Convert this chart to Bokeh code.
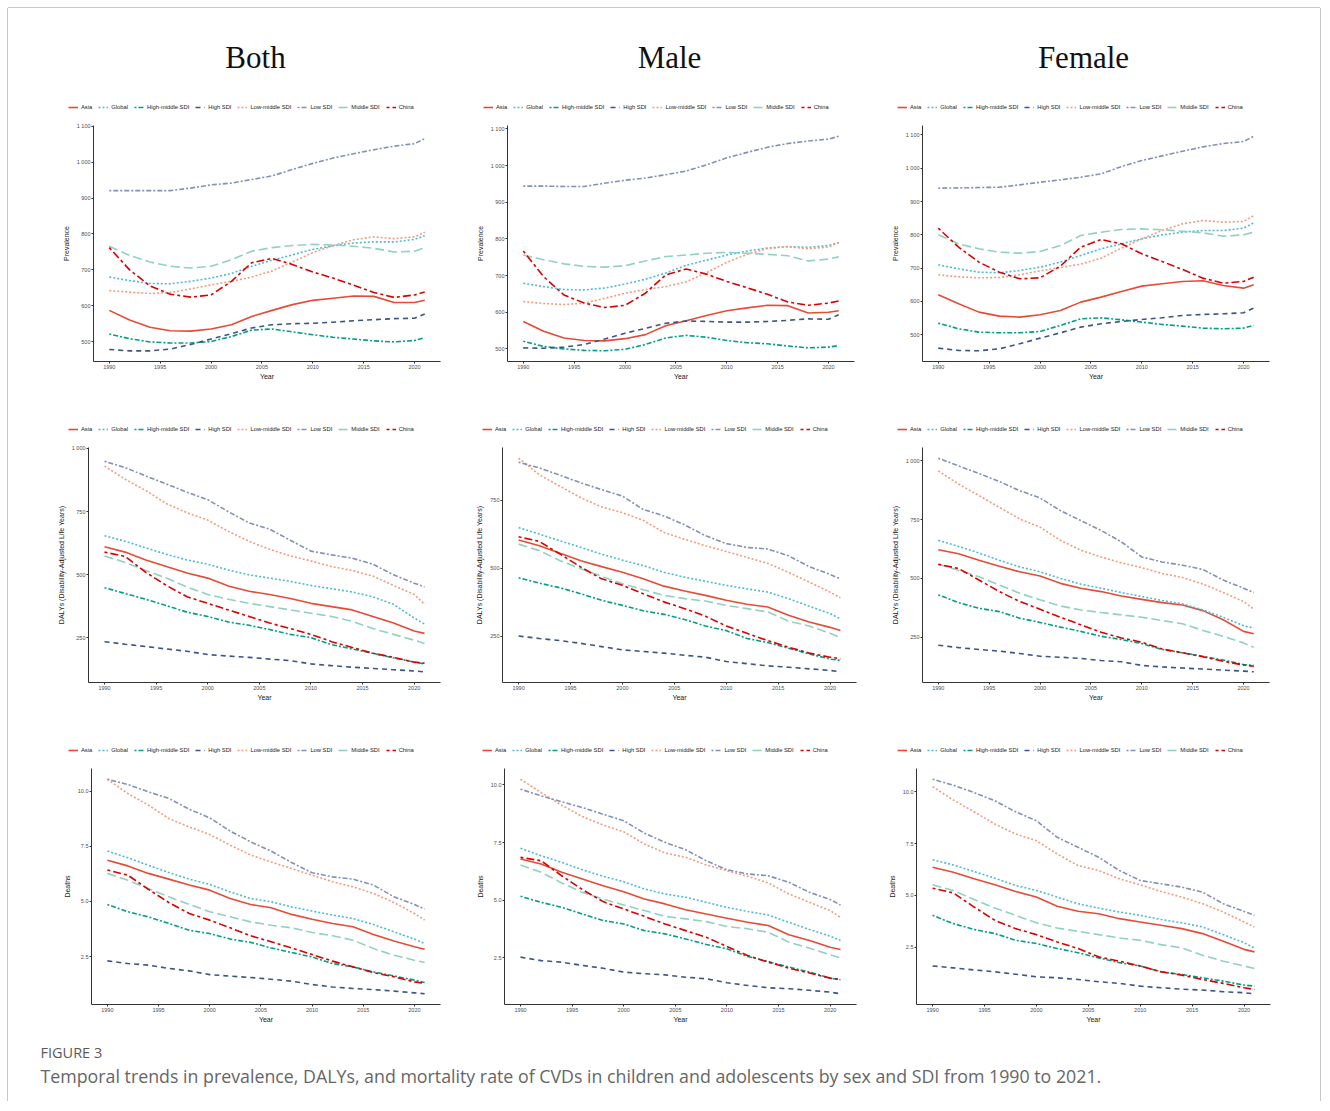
from bokeh.plotting import figure
from bokeh.models import Range1d, FixedTicker, CustomJSTickFormatter, Legend, LegendItem
from bokeh.layouts import column, row
from bokeh.embed import file_html
from bokeh.resources import INLINE
from bokeh.core.properties import value

# ---------------- data ----------------
years = [1990, 1992, 1994, 1996, 1998, 2000, 2002, 2004, 2006, 2008, 2010, 2012, 2014, 2016, 2018, 2020, 2021]
series_names = ["Asia", "Global", "High-middle SDI", "High SDI", "Low-middle SDI", "Low SDI", "Middle SDI", "China"]
x_ticks = [1990, 1995, 2000, 2005, 2010, 2015, 2020]
prev_ticks = [500, 600, 700, 800, 900, 1000, 1100]
daly_ticks = [250, 500, 750, 1000]
death_ticks = [2.5, 5.0, 7.5, 10.0]
col_titles = ["Both", "Male", "Female"]
row_ylabels = ["Prevalence", "DALYs (Disability-Adjusted Life Years)", "Deaths"]
caption_head = "FIGURE 3"
caption_text = ("Temporal trends in prevalence, DALYs, and mortality rate of CVDs in children and "
                "adolescents by sex and SDI from 1990 to 2021.")

prev_both = {
    "Asia": [587, 560, 540, 530, 529, 535, 547, 570, 587, 603, 615, 621, 627, 626, 609, 609, 615],
    "Global": [680, 670, 662, 661, 668, 677, 690, 710, 727, 742, 757, 767, 775, 778, 778, 785, 795],
    "High-middle SDI": [521, 508, 499, 496, 496, 500, 514, 532, 535, 527, 519, 512, 507, 502, 499, 503, 511],
    "High SDI": [478, 474, 474, 479, 492, 507, 522, 538, 547, 550, 551, 554, 558, 561, 564, 565, 577],
    "Low-middle SDI": [642, 638, 634, 637, 647, 658, 668, 680, 697, 722, 748, 768, 784, 792, 787, 792, 805],
    "Low SDI": [921, 921, 921, 921, 928, 937, 942, 952, 962, 980, 997, 1012, 1024, 1035, 1045, 1052, 1066],
    "Middle SDI": [766, 740, 722, 710, 705, 710, 728, 752, 762, 768, 771, 769, 766, 760, 750, 752, 762],
    "China": [762, 700, 655, 632, 624, 630, 668, 720, 732, 715, 694, 677, 657, 637, 623, 630, 638],
}
prev_male = {
    "Asia": [575, 548, 530, 523, 522, 528, 539, 563, 577, 591, 604, 612, 619, 618, 598, 600, 604],
    "Global": [679, 670, 662, 661, 666, 677, 690, 707, 728, 742, 756, 767, 775, 779, 777, 782, 790],
    "High-middle SDI": [521, 507, 500, 496, 495, 499, 512, 530, 537, 532, 523, 517, 514, 508, 503, 505, 509],
    "High SDI": [503, 502, 505, 512, 527, 543, 556, 570, 576, 575, 573, 573, 575, 578, 582, 581, 593],
    "Low-middle SDI": [629, 624, 621, 625, 638, 652, 662, 670, 683, 708, 736, 758, 774, 779, 773, 778, 790],
    "Low SDI": [944, 944, 943, 943, 952, 960, 966, 975, 985, 1002, 1021, 1036, 1050, 1060, 1067, 1072, 1080],
    "Middle SDI": [756, 743, 732, 725, 723, 727, 740, 752, 756, 761, 763, 761, 758, 754, 740, 745, 751],
    "China": [767, 697, 647, 625, 613, 619, 652, 702, 718, 704, 684, 667, 649, 628, 619, 625, 631],
}
prev_female = {
    "Asia": [620, 593, 568, 556, 553, 560, 573, 598, 613, 630, 646, 653, 660, 662, 648, 640, 650],
    "Global": [710, 698, 688, 686, 693, 703, 718, 738, 758, 773, 788, 800, 808, 813, 813, 820, 836],
    "High-middle SDI": [535, 518, 508, 506, 506, 510, 528, 548, 551, 545, 538, 531, 526, 520, 518, 520, 528],
    "High SDI": [460, 453, 452, 458, 473, 490, 506, 523, 533, 540, 546, 551, 558, 561, 563, 566, 580],
    "Low-middle SDI": [680, 674, 671, 672, 680, 692, 702, 712, 730, 760, 788, 813, 833, 843, 838, 840, 858],
    "Low SDI": [940, 941, 942, 943, 950, 958, 965, 973, 983, 1005, 1023, 1037, 1051, 1064, 1074, 1080, 1096],
    "Middle SDI": [800, 773, 758, 748, 745, 750, 768, 798, 808, 816, 818, 815, 811, 806, 796, 800, 808],
    "China": [820, 763, 718, 688, 668, 671, 706, 763, 786, 773, 743, 720, 696, 670, 655, 660, 673],
}
daly_both = {
    "Asia": [610, 589, 558, 532, 506, 486, 455, 434, 421, 405, 386, 373, 360, 334, 308, 276, 267],
    "Global": [654, 632, 606, 580, 558, 541, 518, 499, 486, 473, 457, 444, 431, 412, 382, 328, 304],
    "High-middle SDI": [448, 425, 402, 377, 351, 334, 312, 299, 282, 263, 250, 222, 205, 188, 170, 153, 146],
    "High SDI": [234, 224, 215, 205, 196, 183, 177, 172, 165, 159, 146, 139, 133, 128, 123, 118, 114],
    "Low-middle SDI": [930, 878, 833, 781, 745, 716, 671, 632, 600, 574, 554, 532, 516, 494, 457, 421, 383],
    "Low SDI": [949, 924, 891, 859, 826, 797, 749, 705, 680, 636, 593, 578, 565, 541, 499, 466, 451],
    "Middle SDI": [574, 548, 516, 486, 451, 421, 402, 386, 373, 360, 347, 334, 315, 286, 263, 240, 227],
    "China": [589, 572, 509, 457, 412, 386, 360, 334, 308, 286, 263, 234, 211, 188, 172, 153, 149],
}
daly_male = {
    "Asia": [604, 583, 555, 528, 506, 485, 461, 434, 416, 400, 382, 367, 357, 327, 302, 282, 270],
    "Global": [650, 626, 601, 577, 552, 530, 510, 485, 467, 452, 437, 424, 412, 388, 360, 333, 313],
    "High-middle SDI": [465, 445, 428, 406, 382, 363, 343, 330, 311, 287, 270, 241, 226, 205, 184, 165, 160],
    "High SDI": [250, 241, 233, 223, 211, 199, 193, 187, 179, 172, 156, 148, 140, 135, 129, 123, 118],
    "Low-middle SDI": [906, 845, 802, 760, 726, 705, 677, 632, 607, 583, 562, 540, 518, 485, 449, 412, 391],
    "Low SDI": [891, 870, 843, 815, 790, 766, 717, 693, 660, 620, 591, 577, 571, 546, 506, 477, 461],
    "Middle SDI": [589, 565, 528, 498, 470, 443, 421, 400, 388, 379, 363, 351, 339, 305, 287, 260, 245],
    "China": [616, 599, 552, 504, 461, 437, 406, 376, 351, 323, 287, 260, 233, 209, 187, 172, 166],
}
daly_female = {
    "Asia": [622, 605, 577, 552, 528, 510, 479, 458, 444, 425, 411, 397, 387, 363, 324, 275, 265],
    "Global": [662, 636, 608, 577, 549, 528, 500, 476, 458, 440, 423, 406, 392, 366, 335, 299, 289],
    "High-middle SDI": [430, 397, 373, 359, 331, 313, 293, 275, 254, 240, 223, 198, 184, 169, 153, 134, 130],
    "High SDI": [216, 206, 198, 191, 181, 169, 165, 160, 151, 146, 130, 124, 119, 115, 110, 106, 103],
    "Low-middle SDI": [957, 901, 852, 802, 753, 718, 662, 620, 591, 566, 546, 521, 504, 476, 440, 402, 369],
    "Low SDI": [1011, 978, 946, 912, 873, 842, 788, 746, 704, 655, 591, 570, 556, 538, 493, 458, 440],
    "Middle SDI": [560, 535, 507, 472, 437, 409, 383, 366, 355, 345, 335, 321, 307, 279, 254, 226, 207],
    "China": [560, 542, 493, 444, 402, 369, 335, 303, 271, 247, 229, 200, 184, 167, 148, 132, 127],
}
death_both = {
    "Asia": [6.87, 6.61, 6.27, 6.01, 5.74, 5.51, 5.13, 4.86, 4.71, 4.41, 4.19, 4.00, 3.85, 3.50, 3.20, 2.94, 2.83],
    "Global": [7.28, 6.98, 6.64, 6.31, 6.01, 5.77, 5.43, 5.13, 4.98, 4.75, 4.56, 4.38, 4.22, 3.95, 3.62, 3.29, 3.09],
    "High-middle SDI": [4.86, 4.53, 4.30, 4.00, 3.69, 3.54, 3.29, 3.14, 2.89, 2.68, 2.48, 2.18, 2.03, 1.80, 1.62, 1.43, 1.32],
    "High SDI": [2.30, 2.18, 2.11, 1.96, 1.85, 1.68, 1.61, 1.55, 1.47, 1.38, 1.23, 1.12, 1.05, 1.00, 0.93, 0.85, 0.81],
    "Low-middle SDI": [10.54, 9.89, 9.37, 8.76, 8.38, 8.03, 7.55, 7.10, 6.79, 6.49, 6.19, 5.89, 5.66, 5.36, 4.95, 4.45, 4.15],
    "Low SDI": [10.54, 10.30, 9.97, 9.67, 9.18, 8.79, 8.19, 7.70, 7.28, 6.76, 6.30, 6.11, 6.01, 5.74, 5.21, 4.86, 4.65],
    "Middle SDI": [6.27, 5.96, 5.58, 5.21, 4.86, 4.53, 4.30, 4.07, 3.92, 3.80, 3.59, 3.44, 3.24, 2.86, 2.56, 2.33, 2.23],
    "China": [6.42, 6.19, 5.55, 4.95, 4.45, 4.15, 3.80, 3.44, 3.17, 2.89, 2.59, 2.29, 2.03, 1.77, 1.58, 1.35, 1.28],
}
death_male = {
    "Asia": [6.79, 6.57, 6.21, 5.92, 5.63, 5.37, 5.05, 4.84, 4.59, 4.40, 4.22, 4.04, 3.90, 3.50, 3.25, 2.96, 2.86],
    "Global": [7.25, 6.93, 6.64, 6.32, 6.04, 5.80, 5.49, 5.27, 5.13, 4.91, 4.69, 4.51, 4.36, 4.04, 3.73, 3.44, 3.25],
    "High-middle SDI": [5.17, 4.91, 4.69, 4.40, 4.12, 3.97, 3.68, 3.54, 3.32, 3.08, 2.89, 2.56, 2.34, 2.10, 1.88, 1.62, 1.55],
    "High SDI": [2.53, 2.38, 2.31, 2.17, 2.05, 1.88, 1.81, 1.76, 1.66, 1.59, 1.42, 1.30, 1.20, 1.16, 1.09, 1.01, 0.94],
    "Low-middle SDI": [10.25, 9.67, 9.12, 8.63, 8.26, 7.97, 7.44, 7.05, 6.86, 6.53, 6.28, 6.04, 5.75, 5.27, 4.91, 4.55, 4.26],
    "Low SDI": [9.82, 9.53, 9.27, 9.02, 8.73, 8.45, 7.91, 7.51, 7.19, 6.71, 6.32, 6.14, 6.06, 5.78, 5.34, 5.03, 4.79],
    "Middle SDI": [6.53, 6.21, 5.75, 5.34, 5.05, 4.79, 4.55, 4.30, 4.19, 4.07, 3.86, 3.76, 3.61, 3.18, 2.92, 2.63, 2.50],
    "China": [6.86, 6.71, 6.06, 5.46, 4.94, 4.62, 4.30, 3.97, 3.68, 3.39, 2.99, 2.60, 2.31, 2.05, 1.84, 1.62, 1.56],
}
death_female = {
    "Asia": [6.36, 6.12, 5.80, 5.51, 5.19, 4.92, 4.48, 4.24, 4.12, 3.88, 3.72, 3.56, 3.40, 3.16, 2.79, 2.40, 2.28],
    "Global": [6.72, 6.47, 6.15, 5.83, 5.48, 5.24, 4.92, 4.60, 4.39, 4.20, 4.04, 3.84, 3.68, 3.48, 3.11, 2.72, 2.47],
    "High-middle SDI": [4.04, 3.64, 3.36, 3.16, 2.84, 2.68, 2.44, 2.24, 1.99, 1.76, 1.60, 1.32, 1.19, 1.03, 0.87, 0.68, 0.63],
    "High SDI": [1.60, 1.51, 1.41, 1.32, 1.20, 1.08, 1.03, 0.95, 0.84, 0.76, 0.63, 0.55, 0.48, 0.44, 0.36, 0.31, 0.26],
    "Low-middle SDI": [10.24, 9.60, 9.03, 8.44, 7.96, 7.64, 7.00, 6.44, 6.20, 5.80, 5.51, 5.19, 4.92, 4.60, 4.20, 3.72, 3.48],
    "Low SDI": [10.60, 10.31, 9.96, 9.56, 9.03, 8.60, 7.80, 7.32, 6.84, 6.20, 5.72, 5.56, 5.40, 5.16, 4.60, 4.23, 4.04],
    "Middle SDI": [5.51, 5.24, 4.80, 4.39, 4.04, 3.68, 3.43, 3.27, 3.11, 2.95, 2.84, 2.63, 2.47, 2.12, 1.83, 1.60, 1.48],
    "China": [5.35, 5.12, 4.44, 3.80, 3.40, 3.11, 2.76, 2.44, 2.04, 1.83, 1.60, 1.32, 1.16, 0.95, 0.76, 0.55, 0.47],
}

# ---------------- styles / geometry ----------------
series_colors = ["#E64B35", "#4DBBD5", "#00A087", "#3C5488", "#F39B7F", "#8491B4", "#91D1C2", "#DC0000"]
series_dashes = ["solid", "2 2", "2 2 5 2", "5 4", "2 2", "2 2 5 2", "9 4", "3 3 8 3"]
LINE_W = 1.6

FMT_INT = ("var s = Math.round(tick).toString();"
           "if (s.length > 3) { s = s.slice(0, s.length - 3) + ' ' + s.slice(s.length - 3); }"
           "return s;")
FMT_DEC = "return tick.toFixed(1);"

col_widths = [462, 415, 435]
row_heights = [320, 325, 290]
strip_h = [24, 28, 20]             # legend strip above each row of panels
strip_legend_y = [8, 10, 6]
row_mt = [6, 4, 8]
row_mb = [54, 58, 26]
panel_ml = [[85, 37, 37], [80, 32, 37], [83, 34, 26]]
panel_mr = [[30, 31, 51], [30, 29, 51], [30, 29, 50]]
legend_start = [[60, 475, 889], [60, 474, 889], [60, 474, 889]]   # left edge of each key

AX_FONT = "Liberation Sans"
total_w = sum(col_widths)


def make_legend_strip(datas, height, starts, ly):
    # legend-only strip: the series lie outside its (empty) view, only the keys show
    lf = figure(width=total_w, height=height, x_range=Range1d(0, 1), y_range=Range1d(0, 1),
                output_backend="svg", toolbar_location=None, x_axis_type=None, y_axis_type=None,
                min_border=0)
    lf.outline_line_color = None
    for data, s in zip(datas, starts):
        items = []
        for name, color, dash in zip(series_names, series_colors, series_dashes):
            r = lf.line(years, data[name], line_color=color, line_width=LINE_W, line_dash=dash)
            items.append(LegendItem(label=name, renderers=[r]))
        legend = Legend(items=items, orientation="horizontal", location=(s, ly),
                        label_text_font_size="5.8px", label_text_font=AX_FONT,
                        label_text_color="#222222",
                        glyph_width=10, glyph_height=8, label_height=8, label_width=0,
                        spacing=6, label_standoff=3, padding=0, margin=0,
                        border_line_color=None, background_fill_alpha=0)
        lf.add_layout(legend)
    return lf


def make_panel(data, ylabel, yticks, fmt, width, height, ml, mr, mt, mb):
    vals = [v for s in series_names for v in data[s]]
    lo, hi = min(vals), max(vals)
    pad = 0.05 * (hi - lo)
    start, end = lo - pad, hi + pad
    top = max(yticks)
    if end < top and (top - end) < 0.03 * (end - start):
        end = top + 0.004 * (end - start)
    xpad = 0.05 * (years[-1] - years[0])
    p = figure(width=width, height=height,
               x_range=Range1d(years[0] - xpad, years[-1] + xpad),
               y_range=Range1d(start, end),
               output_backend="svg", toolbar_location=None,
               min_border_left=ml, min_border_right=mr,
               min_border_top=mt, min_border_bottom=mb)
    p.outline_line_color = None
    p.xgrid.visible = False
    p.ygrid.visible = False

    for name, color, dash in zip(series_names, series_colors, series_dashes):
        p.line(years, data[name], line_color=color, line_width=LINE_W, line_dash=dash)

    p.xaxis.ticker = FixedTicker(ticks=x_ticks)
    p.xaxis.axis_label = "Year"
    p.yaxis.ticker = FixedTicker(ticks=yticks)
    p.yaxis.formatter = CustomJSTickFormatter(code=fmt)
    p.yaxis.axis_label = ylabel
    for ax in (p.xaxis[0], p.yaxis[0]):
        ax.axis_line_color = "#333333"
        ax.axis_line_width = 1
        ax.major_tick_line_color = "#333333"
        ax.major_tick_out = 2
        ax.major_tick_in = 0
        ax.minor_tick_line_color = None
        ax.major_label_text_font_size = "5.5px"
        ax.major_label_text_color = "#4d4d4d"
        ax.major_label_text_font = AX_FONT
        ax.major_label_standoff = 1
        ax.axis_label_text_font_size = "7px"
        ax.axis_label_text_font_style = "normal"
        ax.axis_label_text_color = "#1a1a1a"
        ax.axis_label_text_font = AX_FONT
    p.xaxis.axis_label_standoff = 1
    p.yaxis.axis_label_standoff = 4
    return p


grid_data = [[prev_both, prev_male, prev_female],
             [daly_both, daly_male, daly_female],
             [death_both, death_male, death_female]]
row_ticks = [prev_ticks, daly_ticks, death_ticks]
row_fmt = [FMT_INT, FMT_INT, FMT_DEC]

blocks = []
for i in range(3):
    strip = make_legend_strip(grid_data[i], strip_h[i], legend_start[i], strip_legend_y[i])
    panels = []
    for j in range(3):
        panels.append(make_panel(grid_data[i][j], row_ylabels[i], row_ticks[i], row_fmt[i],
                                 col_widths[j], row_heights[i] - strip_h[i],
                                 panel_ml[i][j], panel_mr[i][j], row_mt[i], row_mb[i]))
    blocks.append(strip)
    blocks.append(row(*panels, spacing=0))

header_h = 87
header = figure(width=total_w, height=header_h, x_range=Range1d(0, total_w), y_range=Range1d(0, header_h),
                output_backend="svg", toolbar_location=None, x_axis_type=None, y_axis_type=None,
                min_border=0)
header.outline_line_color = None
title_x = [247, 661, 1075]
title_y = [38, 38, 38]
header.text(x=title_x, y=title_y, text=col_titles, text_font=value("Liberation Serif"),
            text_font_size="31px", text_color="#111111", text_align="center", text_baseline="middle")

cap_h = 71
caption = figure(width=total_w, height=cap_h, x_range=Range1d(0, total_w), y_range=Range1d(0, cap_h),
                 output_backend="svg", toolbar_location=None, x_axis_type=None, y_axis_type=None,
                 min_border=0)
caption.outline_line_color = None
caption.text(x=[32], y=[49], text=[caption_head], text_font=value("Open Sans"),
             text_font_size="14.5px", text_color="#5a5a5a", text_align="left", text_baseline="middle")
caption.text(x=[32], y=[26], text=[caption_text], text_font=value("Open Sans"),
             text_font_size="17.8px", text_color="#666666", text_align="left", text_baseline="middle")

layout = column(header, *blocks, caption, spacing=0,
                styles={"margin": "8px 0 0 8px",
                        "box-shadow": "0 -1px 0 #c8c8c8, -1px 0 0 #c8c8c8, 1px 0 0 #c8c8c8"})

open("out.html", "w").write(file_html(layout, INLINE))
